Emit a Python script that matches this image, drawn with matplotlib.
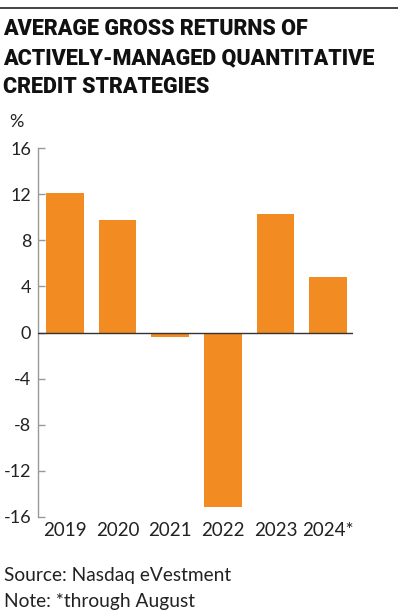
import matplotlib
matplotlib.use("Agg")
import matplotlib.pyplot as plt

years = ["2019", "2020", "2021", "2022", "2023", "2024*"]
returns = [12.1, 9.8, -0.4, -15.2, 10.3, 4.8]
yticks = [-16, -12, -8, -4, 0, 4, 8, 12, 16]
title_lines = ["AVERAGE GROSS RETURNS OF",
               "ACTIVELY-MANAGED QUANTITATIVE",
               "CREDIT STRATEGIES"]
source = "Source: Nasdaq eVestment"
note = "Note: *through August"

W, H = 398, 616
fig = plt.figure(figsize=(W / 100, H / 100), dpi=100)

def fx(px):
    return px / W

def fy(py):
    return 1 - py / H

# top rule
fig.add_artist(plt.Line2D([0, 1], [fy(8), fy(8)], color="#222222", lw=1.2))

# title
for i, line in enumerate(title_lines):
    fig.text(fx(3), fy(35 + 29 * i), line, fontsize=15.5, fontweight=900,
             family="Roboto", color="#111111", ha="left", va="baseline")

# axes
left, right, top, bottom = 38.3, 353, 148.3, 516.7
ax = fig.add_axes([fx(left), fy(bottom), fx(right - left), (bottom - top) / H])
x = list(range(len(years)))
ax.bar(x, returns, width=0.716, color="#F28B22", zorder=2)
ax.axhline(0, color="#333333", lw=1.0, zorder=3)
ax.set_xlim(-0.507, 5.475)
ax.set_ylim(-16, 16)
ax.set_yticks(yticks)
ax.set_yticklabels([str(v) for v in yticks], family="Lato",
                   fontsize=13, color="#222222")
ax.set_xticks(x)
ax.set_xticklabels(years, family="Lato", fontsize=13.5, color="#222222")
ax.tick_params(axis="y", direction="in", length=5, width=1, color="#999999", pad=5)
ax.tick_params(axis="x", length=0, pad=4)
for s in ["top", "right", "bottom"]:
    ax.spines[s].set_visible(False)
ax.spines["left"].set_color("#999999")
ax.spines["left"].set_linewidth(1)
ax.set_facecolor("none")

fig.text(fx(9), fy(127), "%", family="Lato", fontsize=13,
         color="#222222", ha="left", va="baseline")
fig.text(fx(4), fy(581.5), source, family="Lato", fontsize=13.8,
         color="#222222", ha="left", va="baseline")
fig.text(fx(4), fy(606.5), note, family="Lato", fontsize=13.8,
         color="#222222", ha="left", va="baseline")

fig.savefig("out.png", dpi=100)
